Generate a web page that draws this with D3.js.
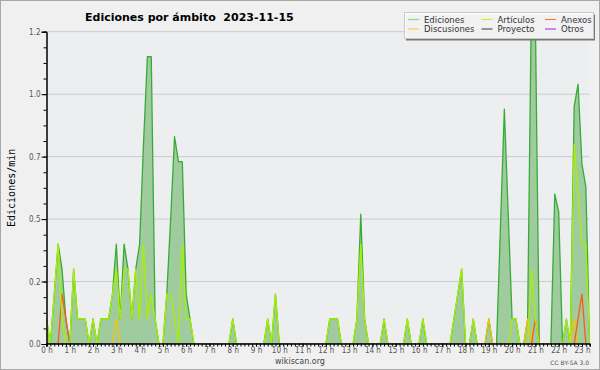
<!DOCTYPE html>
<html>
<head>
<meta charset="utf-8">
<script src="https://cdn.jsdelivr.net/npm/d3@7"></script>
<style>
  body { margin: 0; background: #fff; }
  svg { display: block; }
</style>
</head>
<body>
<script>
// one value per 10-minute slot, 00:00 .. 23:20 (edits/min)
var ediciones = [
  0.1, 0, 0.2, 0.4, 0.3, 0.1,
  0, 0.3, 0.1, 0.1, 0.1, 0,
  0.1, 0, 0.1, 0.1, 0.1, 0.2,
  0.4, 0.1, 0.4, 0.3, 0.1, 0.3,
  0.4, 0.8, 1.15, 1.15, 0.1, 0,
  0, 0.2, 0.5, 0.83, 0.73, 0.73,
  0.2, 0.1, 0, 0, 0, 0,
  0, 0, 0, 0, 0, 0,
  0.1, 0, 0, 0, 0, 0,
  0, 0, 0, 0.1, 0, 0.2,
  0, 0, 0, 0, 0, 0,
  0, 0, 0, 0, 0, 0,
  0, 0.1, 0.1, 0.1, 0, 0,
  0, 0, 0.1, 0.52, 0.1, 0,
  0, 0, 0, 0.1, 0, 0,
  0, 0, 0, 0.1, 0, 0,
  0, 0.1, 0, 0, 0, 0,
  0, 0, 0, 0.1, 0.2, 0.3,
  0, 0, 0.1, 0, 0, 0,
  0.1, 0, 0, 0.47, 0.94, 0.52,
  0.1, 0.1, 0, 0, 0.1, 1.4,
  1.3, 0, 0, 0, 0, 0.6,
  0.53, 0, 0.1, 0, 0.95, 1.04,
  0.72, 0.63, 0
];
var articulos = [
  0.1, 0, 0.2, 0.4, 0.1, 0,
  0, 0.3, 0.1, 0.1, 0.1, 0,
  0.1, 0, 0.1, 0.1, 0.1, 0.2,
  0.3, 0.1, 0.3, 0.3, 0.1, 0.3,
  0.1, 0.4, 0.1, 0.2, 0.1, 0,
  0, 0.2, 0.2, 0.1, 0, 0.4,
  0.1, 0.1, 0, 0, 0, 0,
  0, 0, 0, 0, 0, 0,
  0.1, 0, 0, 0, 0, 0,
  0, 0, 0, 0.1, 0, 0.2,
  0, 0, 0, 0, 0, 0,
  0, 0, 0, 0, 0, 0,
  0, 0.1, 0.1, 0.1, 0, 0,
  0, 0, 0.1, 0.4, 0.1, 0,
  0, 0, 0, 0.1, 0, 0,
  0, 0, 0, 0.1, 0, 0,
  0, 0.1, 0, 0, 0, 0,
  0, 0, 0, 0.1, 0.2, 0.3,
  0, 0, 0.1, 0, 0, 0,
  0, 0, 0, 0, 0, 0,
  0.1, 0.1, 0, 0, 0, 0.3,
  0.1, 0, 0, 0, 0, 0,
  0, 0, 0.1, 0, 0.8, 0.6,
  0.4, 0.4, 0
];
var anexos = [
  0, 0, 0, 0, 0.2, 0.1,
  0, 0, 0, 0, 0, 0,
  0, 0, 0, 0, 0, 0,
  0, 0, 0, 0, 0, 0,
  0, 0, 0, 0, 0, 0,
  0, 0, 0, 0, 0, 0,
  0, 0, 0, 0, 0, 0,
  0, 0, 0, 0, 0, 0,
  0, 0, 0, 0, 0, 0,
  0, 0, 0, 0, 0, 0,
  0, 0, 0, 0, 0, 0,
  0, 0, 0, 0, 0, 0,
  0, 0, 0, 0, 0, 0,
  0, 0, 0, 0, 0, 0,
  0, 0, 0, 0, 0, 0,
  0, 0, 0, 0, 0, 0,
  0, 0, 0, 0, 0, 0,
  0, 0, 0, 0, 0, 0,
  0, 0, 0, 0, 0, 0,
  0, 0, 0, 0, 0, 0,
  0, 0, 0, 0, 0, 0,
  0.1, 0, 0, 0, 0, 0,
  0, 0, 0, 0, 0, 0.1,
  0.2, 0, 0
];
var discusiones = [
  0, 0, 0, 0, 0, 0,
  0, 0, 0, 0, 0, 0,
  0, 0, 0, 0, 0, 0,
  0.1, 0, 0, 0, 0, 0,
  0, 0, 0, 0, 0, 0,
  0, 0, 0, 0, 0, 0,
  0, 0, 0, 0, 0, 0,
  0, 0, 0, 0, 0, 0,
  0, 0, 0, 0, 0, 0,
  0, 0, 0, 0, 0, 0,
  0, 0, 0, 0, 0, 0,
  0, 0, 0, 0, 0, 0,
  0, 0, 0, 0, 0, 0,
  0, 0, 0, 0, 0, 0,
  0, 0, 0, 0, 0, 0,
  0, 0, 0, 0, 0, 0,
  0, 0, 0, 0, 0, 0,
  0, 0, 0, 0, 0, 0,
  0, 0, 0, 0, 0, 0,
  0.1, 0, 0, 0, 0, 0,
  0, 0, 0, 0, 0.1, 0,
  0, 0, 0, 0, 0, 0,
  0, 0, 0, 0, 0.1, 0,
  0, 0, 0
];
var proyecto = [
  0, 0, 0, 0, 0, 0,  0, 0, 0, 0, 0, 0,  0, 0, 0, 0, 0, 0,  0, 0, 0, 0, 0, 0,
  0, 0, 0, 0, 0, 0,  0, 0, 0, 0, 0, 0,  0, 0, 0, 0, 0, 0,  0, 0, 0, 0, 0, 0,
  0, 0, 0, 0, 0, 0,  0, 0, 0, 0, 0, 0,  0, 0, 0, 0, 0, 0,  0, 0, 0, 0, 0, 0,
  0, 0, 0, 0, 0, 0,  0, 0, 0, 0, 0, 0,  0, 0, 0, 0, 0, 0,  0, 0, 0, 0, 0, 0,
  0, 0, 0, 0, 0, 0,  0, 0, 0, 0, 0, 0,  0, 0, 0, 0, 0, 0,  0, 0, 0, 0, 0, 0,
  0, 0, 0, 0, 0, 0,  0, 0, 0, 0, 0, 0,  0, 0, 0
];
var otros = [
  0, 0, 0, 0, 0, 0,  0, 0, 0, 0, 0, 0,  0, 0, 0, 0, 0, 0,  0, 0, 0, 0, 0, 0,
  0, 0, 0, 0, 0, 0,  0, 0, 0, 0, 0, 0,  0, 0, 0, 0, 0, 0,  0, 0, 0, 0, 0, 0,
  0, 0, 0, 0, 0, 0,  0, 0, 0, 0, 0, 0,  0, 0, 0, 0, 0, 0,  0, 0, 0, 0, 0, 0,
  0, 0, 0, 0, 0, 0,  0, 0, 0, 0, 0, 0,  0, 0, 0, 0, 0, 0,  0, 0, 0, 0, 0, 0,
  0, 0, 0, 0, 0, 0,  0, 0, 0, 0, 0, 0,  0, 0, 0, 0, 0, 0,  0, 0, 0, 0, 0, 0,
  0, 0, 0, 0, 0, 0,  0, 0, 0, 0, 0, 0,  0, 0, 0
];

var hourLabels = ["0 h","1 h","2 h","3 h","4 h","5 h","6 h","7 h","8 h","9 h","10 h","11 h",
                  "12 h","13 h","14 h","15 h","16 h","17 h","18 h","19 h","20 h","21 h","22 h","23 h"];
var yTicks = [0, 0.25, 0.5, 0.75, 1, 1.25];
var yLabels = ["0.0", "0.2", "0.5", "0.7", "1.0", "1.2"];

var width = 600, height = 370;
// note: "top" is taken by window.top, hence the prefix
var plotL = 46.5, plotR = 589.7, plotT = 31.7, plotB = 344;
var font = "'DejaVu Sans', sans-serif";

var svg = d3.select("body").append("svg")
    .attr("width", width)
    .attr("height", height);

svg.append("rect")
    .attr("x", 0.5).attr("y", 0.5)
    .attr("width", width - 1).attr("height", height - 1)
    .attr("fill", "#f0f0f0")
    .attr("stroke", "#a8a8a8");

var x = d3.scaleLinear().domain([0, ediciones.length - 1]).range([plotL, plotR]);
var y = d3.scaleLinear().domain([0, 1.25]).range([plotB, plotT]);

svg.append("rect")
    .attr("x", plotL).attr("y", plotT)
    .attr("width", plotR - plotL).attr("height", plotB - plotT)
    .attr("fill", "#edeef0");

var defs = svg.append("defs");
defs.append("clipPath").attr("id", "plot")
  .append("rect")
    .attr("x", plotL).attr("y", plotT)
    .attr("width", plotR - plotL).attr("height", plotB - plotT);
// lines stop just above the axis so zero values stay hidden under it
defs.append("clipPath").attr("id", "lines")
  .append("rect")
    .attr("x", plotL).attr("y", plotT)
    .attr("width", plotR - plotL).attr("height", plotB - plotT - 0.7);

// grid
svg.append("g").selectAll("line")
    .data(yTicks.slice(1))
  .enter().append("line")
    .attr("x1", plotL).attr("x2", plotR)
    .attr("y1", function(d) { return y(d); })
    .attr("y2", function(d) { return y(d); })
    .attr("stroke", "#cccccc");

svg.append("g").attr("clip-path", "url(#plot)")
  .append("path")
    .datum(ediciones)
    .attr("fill", "#9fcb9f")
    .attr("d", d3.area()
      .x(function(d, i) { return x(i); })
      .y0(y(0))
      .y1(function(d) { return y(d); }));

var plot = svg.append("g").attr("clip-path", "url(#lines)");

var line = d3.line()
    .x(function(d, i) { return x(i); })
    .y(function(d) { return y(d); });

// total first, articulos last so it sits over the total line
var series = [
  {data: ediciones, color: "#36ac36"},
  {data: proyecto, color: "#555555"},
  {data: otros, color: "#9933ee"},
  {data: discusiones, color: "#f5c400"},
  {data: anexos, color: "#ff5a14"},
  {data: articulos, color: "#a8f000"}
];
series.forEach(function(s) {
  plot.append("path")
      .datum(s.data)
      .attr("fill", "none")
      .attr("stroke", s.color)
      .attr("stroke-width", 1.3)
      .attr("stroke-linejoin", "round")
      .attr("d", line);
});

// axes
svg.append("g")
    .attr("transform", "translate(" + plotL + ",0)")
    .call(d3.axisLeft(y).tickValues(yTicks)
      .tickFormat(function(d, i) { return yLabels[i]; })
      .tickSize(5).tickPadding(1));
svg.append("g")
    .attr("transform", "translate(" + plotL + ",0)")
    .call(d3.axisLeft(y).tickValues(d3.range(0, 1.26, 0.0625)).tickSize(3).tickFormat(""));

svg.append("g")
    .attr("transform", "translate(0," + (plotB - 0.5) + ")")
    .call(d3.axisBottom(x).tickValues(hourLabels.map(function(d, i) { return i * 6; }))
      .tickFormat(function(d, i) { return hourLabels[i]; })
      .tickSize(3).tickPadding(1));
svg.append("g")
    .attr("transform", "translate(0," + (plotB - 0.5) + ")")
    .call(d3.axisBottom(x).tickValues(d3.range(0, ediciones.length)).tickSize(3).tickFormat(""));

svg.selectAll(".domain").attr("stroke", "#000");
svg.selectAll(".tick line").attr("stroke", "#000");
svg.selectAll(".tick text")
    .attr("fill", "#555")
    .style("font-family", font)
    .style("font-size", "8px")
    .style("font-stretch", "condensed");

// titles
svg.append("text")
    .attr("x", 85).attr("y", 21)
    .style("font-family", font)
    .style("font-weight", "bold")
    .style("font-size", "11px")
    .style("white-space", "pre")
    .text("Ediciones por ámbito  2023-11-15");

svg.append("text")
    .attr("transform", "translate(15," + ((plotT + plotB) / 2) + ") rotate(-90)")
    .attr("text-anchor", "middle")
    .style("font-family", "'DejaVu Sans Mono', monospace")
    .style("font-size", "10px")
    .text("Ediciones/min");

svg.append("text")
    .attr("x", 300).attr("y", 364)
    .attr("text-anchor", "middle")
    .attr("fill", "#444")
    .style("font-family", font)
    .style("font-size", "8px")
    .text("wikiscan.org");

svg.append("text")
    .attr("x", 589).attr("y", 365)
    .attr("text-anchor", "end")
    .attr("fill", "#555")
    .style("font-family", font)
    .style("font-size", "6px")
    .text("CC BY-SA 3.0");

// legend
var legendItems = [
  {name: "Ediciones", color: "#8fd88f"},
  {name: "Artículos", color: "#c8ee33"},
  {name: "Anexos", color: "#ff7840"},
  {name: "Discusiones", color: "#ffd040"},
  {name: "Proyecto", color: "#555555"},
  {name: "Otros", color: "#9a44ff"}
];
var colX = [408, 481.5, 545];
var rowY = [19.5, 29];

var legend = svg.append("g");
legend.append("rect")
    .attr("x", 406).attr("y", 14.5)
    .attr("width", 189).attr("height", 26)
    .attr("fill", "#777");
legend.append("rect")
    .attr("x", 404.5).attr("y", 12.5)
    .attr("width", 189).attr("height", 26)
    .attr("fill", "#fff").attr("fill-opacity", 0.9)
    .attr("stroke", "#c8c8c8");

legendItems.forEach(function(d, i) {
  var cx = colX[i % 3], cy = rowY[Math.floor(i / 3)];
  legend.append("line")
      .attr("x1", cx).attr("x2", cx + 11)
      .attr("y1", cy).attr("y2", cy)
      .attr("stroke", d.color).attr("stroke-width", 1.2);
  legend.append("text")
      .attr("x", cx + 16).attr("y", cy + 3.2)
      .attr("fill", "#333")
      .style("font-family", font)
      .style("font-size", "8.5px")
      .text(d.name);
});
</script>
</body>
</html>
